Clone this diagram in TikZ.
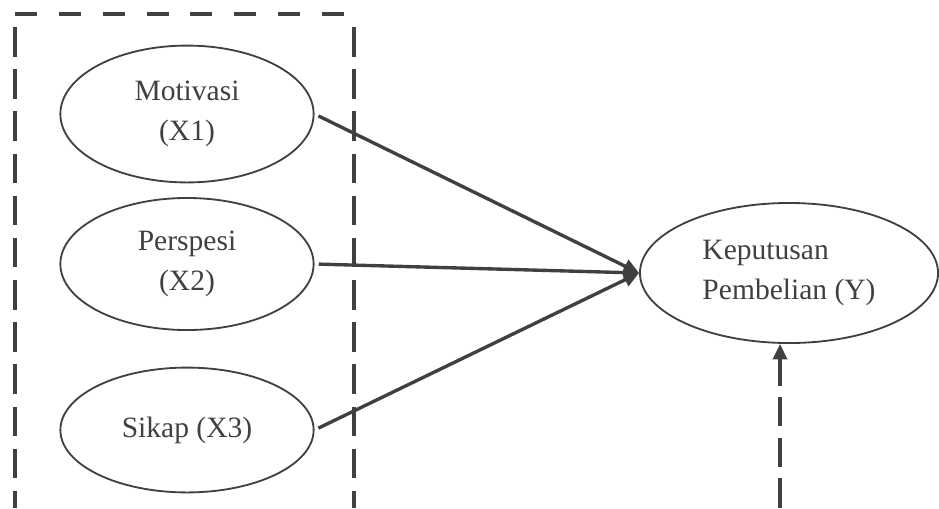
\documentclass[tikz,border=0pt]{standalone}
\usepackage{fontspec}
\setmainfont{Liberation Serif}
\usetikzlibrary{shapes.geometric, arrows.meta}
\definecolor{linegray}{HTML}{404040}

\begin{document}
\begin{tikzpicture}[x=0.025cm, y=-0.025cm,
    var/.style={ellipse, draw=linegray, line width=1.3pt, text=linegray,
        font=\fontsize{21}{28}\selectfont, align=center, minimum width=6.33cm, minimum height=3.3cm},
    link/.style={draw=linegray, line width=2.4pt, shorten <=3pt, -{Triangle[length=11pt, width=10pt]}},
    boxline/.style={draw=linegray, line width=2.6pt}]
    \useasboundingbox (0,0) rectangle (939,508);

    % Independent variables (3 ellipses)
    \node[var, minimum height=3.42cm] (X1) at (187,114) {Motivasi\\(X1)};
    \node[var] (X2) at (187,264) {Perspesi\\(X2)};
    \node[var, minimum height=3.12cm] (X3) at (187,430) {Sikap (X3)};

    % Dependent variable
    \node[var, align=left, minimum width=7.45cm, minimum height=3.5cm] (Y) at (789,273) {Keputusan\\Pembelian (Y)};

    % Dashed frame round the X variables (open at the bottom)
    \draw[boxline, dash pattern=on 15.6pt off 15.6pt] (15,14) -- (355,14);
    \draw[boxline, dash pattern=on 21pt off 9pt] (15,27) -- (15,508);
    \draw[boxline, dash pattern=on 21pt off 9pt] (354,27) -- (354,508);

    % Connect X variables to Y
    \foreach \i in {1,2,3} {
        \draw[link] (X\i.east) -- (Y.west);
    }

    % Dashed arrow from below
    \coordinate (E) at (780,508);
    \draw[link, shorten <=0pt, dash pattern=on 21pt off 8pt] (E) -- (E |- Y.south);
\end{tikzpicture}
\end{document}
